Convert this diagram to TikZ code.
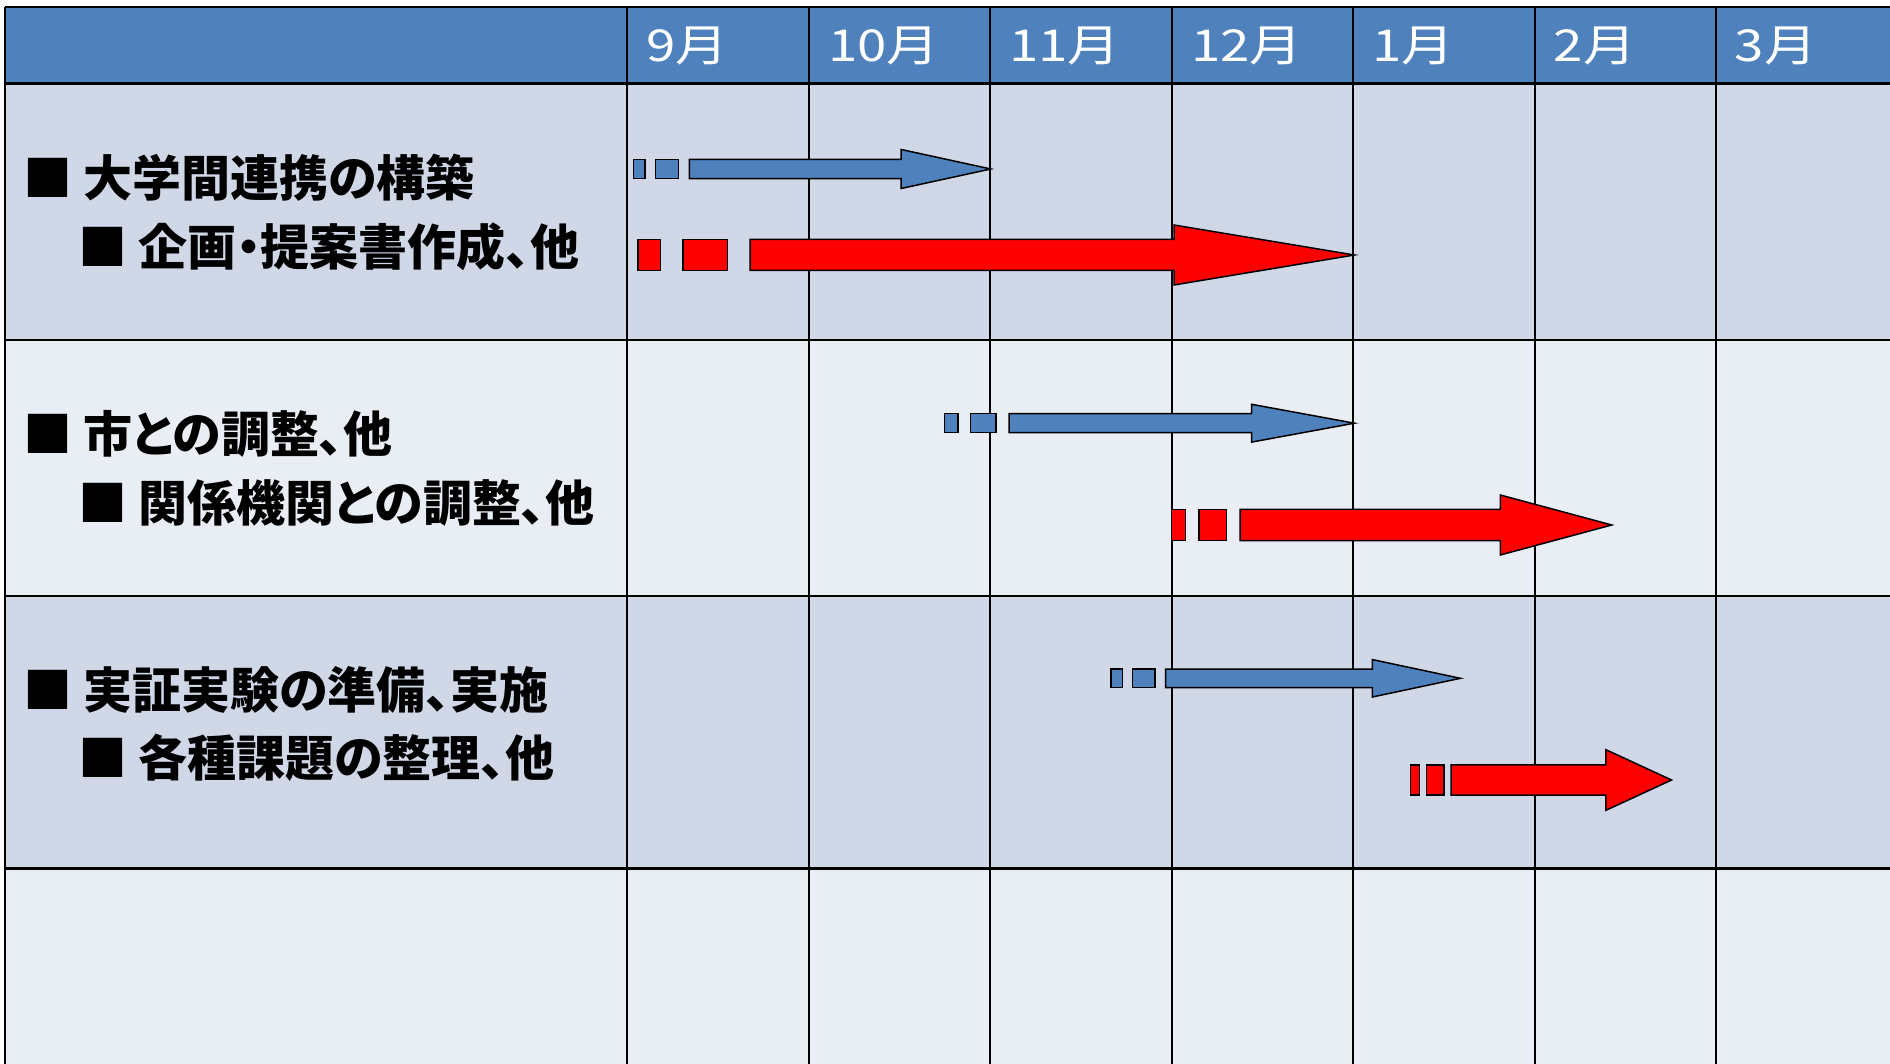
\documentclass[tikz,border=0pt]{standalone}
\usepackage{fontspec}
\newfontfamily\jpfont[RawFeature=+palt]{Noto Sans CJK JP}
\newfontfamily\hdrfont[FakeStretch=1.2]{Noto Sans CJK JP}
\definecolor{hdrblue}{HTML}{4F81BD}
\definecolor{rowdark}{HTML}{D0D8E8}
\definecolor{rowlight}{HTML}{E9EDF4}
\definecolor{arrred}{HTML}{FF0000}
\tikzset{
  monthlabel/.style={anchor=west, inner sep=0pt, text=white, font=\hdrfont\fontsize{44}{44}\selectfont},
  tasklabel/.style={anchor=west, inner sep=0pt, text=black, font=\jpfont\bfseries\fontsize{49}{49}\selectfont},
  gridline/.style={line width=2pt, draw=black},
  thickgrid/.style={line width=3pt, draw=black},
  bluebox/.style={fill=hdrblue, draw=black, line width=1.5pt, line join=miter},
  redbox/.style={fill=arrred, draw=black, line width=1.5pt, line join=miter},
}
\begin{document}
\begin{tikzpicture}[x=1pt,y=-1pt]
\useasboundingbox (0,0) rectangle (1890,1064);
\fill[white] (0,0) rectangle (1890,1064);
\begin{scope}
\clip (0,0) rectangle (1890,1064);
% fills
\fill[hdrblue] (4.8,7.3) rectangle (1900,84);
\fill[rowdark] (4.8,84) rectangle (1900,340);
\fill[rowlight] (4.8,340) rectangle (1900,595.5);
\fill[rowdark] (4.8,595.5) rectangle (1900,868);
\fill[rowlight] (4.8,868) rectangle (1900,1080);
% horizontal lines
\draw[gridline] (4.8,7.3) -- (1900,7.3);
\draw[thickgrid] (4.8,84) -- (1900,84);
\draw[gridline] (4.8,340) -- (1900,340);
\draw[gridline] (4.8,595.5) -- (1900,595.5);
\draw[thickgrid] (4.8,868) -- (1900,868);
% vertical lines
\foreach \x in {4.8,627,809,990,1172,1353,1534.5,1715.5}
  \draw[gridline] (\x,7.3) -- (\x,1080);
\end{scope}
% month labels
\node[monthlabel] (m9)  at (646,46) {9月};
\node[monthlabel] (m10) at (828,46) {10月};
\node[monthlabel] (m11) at (1009,46) {11月};
\node[monthlabel] (m12) at (1191,46) {12月};
\node[monthlabel] (m1)  at (1372,46) {1月};
\node[monthlabel] (m2)  at (1553.5,46) {2月};
\node[monthlabel] (m3)  at (1734.5,46) {3月};
% task labels
\node[tasklabel] (t1a) at (23,178) {■ 大学間連携の構築};
\node[tasklabel] (t1b) at (78,247) {■ 企画・提案書作成、他};
\node[tasklabel] (t2a) at (23,434) {■ 市との調整、他};
\node[tasklabel] (t2b) at (78,503) {■ 関係機関との調整、他};
\node[tasklabel] (t3a) at (23,690) {■ 実証実験の準備、実施};
\node[tasklabel] (t3b) at (78,758) {■ 各種課題の整理、他};
% arrow 1 (blue)
\draw[bluebox] (633.6,159.3) rectangle (645.2,178.7);
\draw[bluebox] (655.4,159.3) rectangle (678.7,178.7);
\draw[bluebox] (689.3,159.3) -- (901.2,159.3) -- (901.2,149.5) -- (990.8,169) -- (901.2,188.5) -- (901.2,178.7) -- (689.3,178.7) -- cycle;
% arrow 2 (red)
\draw[redbox] (638,239.5) rectangle (660.7,270.5);
\draw[redbox] (683,239.5) rectangle (727.6,270.5);
\draw[redbox] (750,239.5) -- (1174,239.5) -- (1174,225) -- (1354.4,255) -- (1174,285) -- (1174,270.5) -- (750,270.5) -- cycle;
% arrow 3 (blue)
\draw[bluebox] (944.5,413.7) rectangle (957.9,432.7);
\draw[bluebox] (970.3,413.7) rectangle (996.1,432.7);
\draw[bluebox] (1009,413.7) -- (1251.6,413.7) -- (1251.6,404.3) -- (1354.4,423.2) -- (1251.6,442.1) -- (1251.6,432.7) -- (1009,432.7) -- cycle;
% arrow 4 (red)
\draw[redbox] (1171.7,509.3) rectangle (1185.5,540.7);
\draw[redbox] (1199,509.3) rectangle (1226.7,540.7);
\draw[redbox] (1240,509.3) -- (1500.3,509.3) -- (1500.3,495) -- (1611.7,525) -- (1500.3,555) -- (1500.3,540.7) -- (1240,540.7) -- cycle;
% arrow 5 (blue)
\draw[bluebox] (1110.8,669) rectangle (1122.4,687.7);
\draw[bluebox] (1132.7,669) rectangle (1155,687.7);
\draw[bluebox] (1165.7,669) -- (1372.4,669) -- (1372.4,659.6) -- (1460.4,678.3) -- (1372.4,697) -- (1372.4,687.7) -- (1165.7,687.7) -- cycle;
% arrow 6 (red)
\draw[redbox] (1410.4,764.9) rectangle (1419.3,795.1);
\draw[redbox] (1426.4,764.9) rectangle (1443.8,795.1);
\draw[redbox] (1451,764.9) -- (1605.9,764.9) -- (1605.9,749.7) -- (1671.5,780) -- (1605.9,810.3) -- (1605.9,795.1) -- (1451,795.1) -- cycle;
\end{tikzpicture}
\end{document}
